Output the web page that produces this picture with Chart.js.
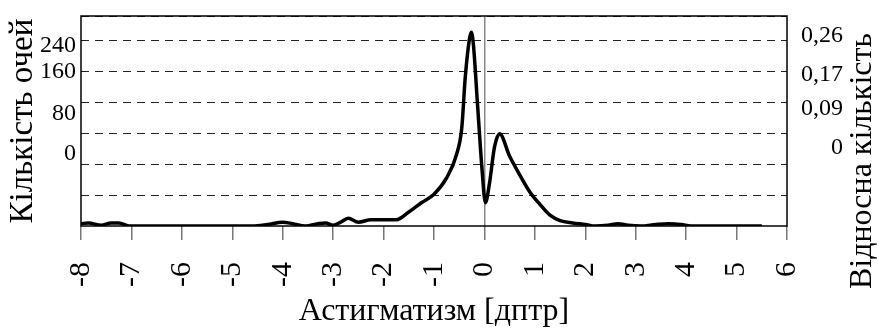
<!DOCTYPE html>
<html>
<head>
<meta charset="utf-8">
<script src="https://cdn.jsdelivr.net/npm/chart.js@4/dist/chart.umd.min.js"></script>
<style>
  body { margin: 0; background: #fff; }
  #wrap { width: 878px; height: 332px; }
</style>
</head>
<body>
<div id="wrap"><canvas id="astig-chart" width="878" height="332"></canvas></div>
<script>
// astigmatism, dioptres
const xs = [-8, -7.85, -7.6, -7.4, -7.25, -7.05, -6.8, -4.6, -4.3, -4.0, -3.8, -3.55, -3.3, -3.15, -3.0,
	-2.85, -2.7, -2.5, -2.25, -2.0, -1.75, -1.5, -1.25, -1.0, -0.75, -0.55, -0.45, -0.38, -0.3, -0.26,
	-0.22, -0.14, -0.05, 0.02, 0.1, 0.2, 0.3, 0.5, 0.7, 0.9, 1.1, 1.3, 1.5, 1.75, 2.0, 2.2, 2.45,
	2.65, 2.85, 3.1, 3.4, 3.65, 3.9, 4.1, 5.5];
// number of eyes
const counts = [3, 4, 1, 4, 4, 0, 0, 0, 2, 5, 3, 0, 3, 4, 1,
	5, 10, 5, 8, 8, 8, 18, 30, 41, 62, 93, 126, 192, 240, 250,
	235, 160, 75, 30, 55, 102, 119, 90, 66, 44, 28, 14, 7, 4, 2, 0, 1,
	3, 1, 0, 2, 3, 2, 0, 0];

const leftTickLabels = ['0', '80', '160', '240'];
const leftTickAt = [93, 145, 199, 233];
const rightTickLabels = ['0', '0,09', '0,17', '0,26'];
const rightTickValues = [0, 0.09, 0.17, 0.26];

const serif = '"Liberation Serif", "Times New Roman", serif';
const ctx = document.getElementById('astig-chart').getContext('2d');

const framePlugin = {
	id: 'frame',
	afterDraw(chart) {
		const a = chart.chartArea;
		const c = chart.ctx;
		c.save();
		c.strokeStyle = '#000';
		c.lineWidth = 1.5;
		c.strokeRect(a.left, a.top, a.right - a.left, a.bottom - a.top);
		// right title reads bottom-to-top like the left one
		c.translate(863, 161);
		c.rotate(-Math.PI / 2);
		c.font = '32px ' + serif;
		c.fillStyle = '#000';
		c.textAlign = 'center';
		c.textBaseline = 'middle';
		c.fillText('Відносна кількість', 0, 0);
		c.restore();
	}
};

// no extra room for the first/last label of the vertical axes
const noPad = s => { s.paddingTop = 0; s.paddingBottom = 0; };

new Chart(ctx, {
	type: 'line',
	data: {
		datasets: [{
			data: xs.map((x, i) => ({ x: x, y: counts[i] })),
			borderColor: '#000',
			borderWidth: 3.5,
			pointRadius: 0,
			fill: false,
			cubicInterpolationMode: 'monotone',
			yAxisID: 'y',
		}],
	},
	options: {
		responsive: false,
		animation: false,
		layout: { padding: { top: 16, left: 0, right: 35, bottom: 0 } },
		plugins: { legend: { display: false }, tooltip: { enabled: false } },
		scales: {
			x: {
				type: 'linear',
				min: -8,
				max: 6,
				afterFit: s => { s.height = 106; },
				ticks: {
					stepSize: 1,
					autoSkip: false,
					minRotation: 90,
					maxRotation: 90,
					padding: 22,
					color: '#000',
					font: { family: serif, size: 30 },
				},
				grid: {
					color: c => (c.tick && c.tick.value === 0 ? '#888' : 'rgba(0,0,0,0)'),
					tickColor: '#777',
					lineWidth: 1.5,
					tickLength: 14,
				},
				border: { display: false },
				title: {
					display: true,
					text: 'Астигматизм [дптр]',
					color: '#000',
					font: { family: serif, size: 32 },
					padding: { top: 0, bottom: 1 },
				},
			},
			y: {
				position: 'left',
				min: 0,
				max: 271,
				afterFit: s => { s.width = 0; noPad(s); },
				ticks: { display: false, stepSize: 40 },
				grid: {
					color: c => (c.tick && c.tick.value === 0 ? 'rgba(0,0,0,0)' : '#222'),
					lineWidth: 1,
					drawTicks: false,
				},
				border: { display: false, dash: [8, 6] },
			},
			yL: {
				position: 'left',
				min: 0,
				max: 271,
				afterFit: s => { s.width = 81; noPad(s); },
				afterBuildTicks: s => { s.ticks = leftTickAt.map(v => ({ value: v })); },
				ticks: {
					padding: 5,
					color: '#000',
					font: { family: serif, size: 24 },
					callback: (v, i) => leftTickLabels[i],
				},
				grid: { display: false, drawTicks: false },
				border: { display: false },
				title: {
					display: true,
					text: 'Кількість очей',
					color: '#000',
					font: { family: serif, size: 33 },
					padding: { top: 4, bottom: 0 },
				},
			},
			y2: {
				position: 'right',
				min: -0.183,
				max: 0.3065,
				afterFit: s => { s.width = 56; noPad(s); },
				afterBuildTicks: s => { s.ticks = rightTickValues.map(v => ({ value: v })); },
				ticks: {
					padding: 8,
					crossAlign: 'far',
					color: '#000',
					font: { family: serif, size: 24 },
					callback: (v, i) => rightTickLabels[i],
				},
				grid: { display: false, drawTicks: false },
				border: { display: false },
			},
		},
	},
	plugins: [framePlugin],
});
</script>
</body>
</html>
